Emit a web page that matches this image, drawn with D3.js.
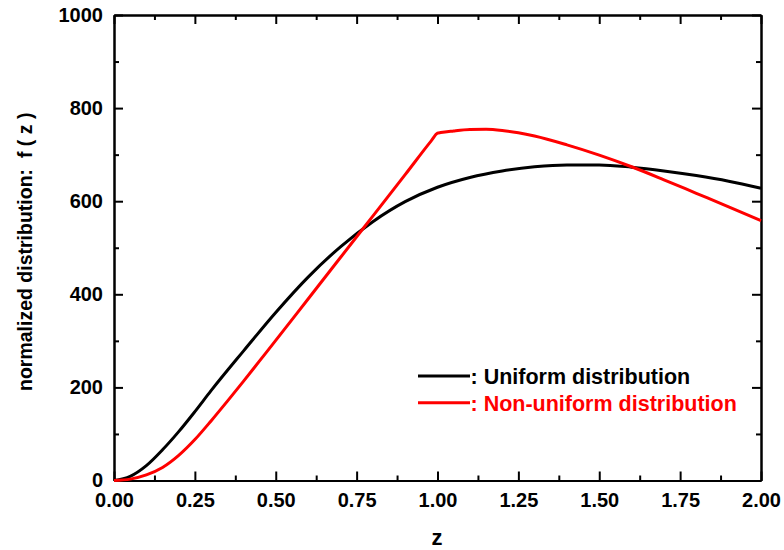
<!DOCTYPE html>
<html>
<head>
<meta charset="utf-8">
<script src="https://cdn.jsdelivr.net/npm/d3@7"></script>
<style>
  body { margin: 0; background: #fff; }
  svg { display: block; font-family: "Liberation Sans", Arial, sans-serif; }
</style>
</head>
<body>
<svg id="chart" width="784" height="550"></svg>
<script>
// ---- data ----
const zUniform = [0, 0.05, 0.1, 0.15, 0.2, 0.25, 0.3, 0.4, 0.5, 0.6, 0.7, 0.8, 0.9, 1.0, 1.1, 1.2, 1.3, 1.4, 1.5, 1.6, 1.7, 1.8, 1.9, 2.0];
const fUniform = [0, 9, 32, 66, 105, 148, 193, 278, 361, 437, 502, 556, 599, 630, 651, 665, 674, 678, 678, 673, 665, 655, 643, 628];

const zNonUniform = [0, 0.05, 0.1, 0.15, 0.2, 0.25, 0.3, 0.35, 0.4, 0.45, 0.5, 0.6, 0.7, 0.8, 0.9, 0.98, 1.0, 1.01, 1.05, 1.1, 1.15, 1.2, 1.25, 1.3, 1.4, 1.5, 1.6, 1.7, 1.8, 1.9, 2.0];
const fNonUniform = [0, 3, 12, 28, 54, 88, 128, 170, 213, 257, 301, 390, 479, 568, 657, 729, 746, 747.5, 751, 754, 754.5, 752, 747, 740, 721, 699, 674, 646, 617, 588, 558];

const xMajorTicks = [0, 0.25, 0.5, 0.75, 1.0, 1.25, 1.5, 1.75, 2.0];
const xMinorTicks = [0.125, 0.375, 0.625, 0.875, 1.125, 1.375, 1.625, 1.875];
const yMajorTicks = [0, 200, 400, 600, 800, 1000];
const yMinorTicks = [100, 300, 500, 700, 900];

const legendLabels = [": Uniform distribution", ": Non-uniform distribution"];
const seriesColors = ["#000000", "#ff0000"];

// ---- layout ----
const W = 784, H = 550;
const margin = { left: 114, top: 15, right: 23, bottom: 69.5 };
const iw = W - margin.left - margin.right;
const ih = H - margin.top - margin.bottom;

const svg = d3.select("#chart");
const g = svg.append("g").attr("transform", `translate(${margin.left},${margin.top})`);

const x = d3.scaleLinear().domain([0, 2]).range([0, iw]);
const y = d3.scaleLinear().domain([0, 1000]).range([ih, 0]);

const fmtX = d3.format(".2f");

function styleAxis(sel, fontSize) {
  sel.select(".domain").attr("stroke", "#000").attr("stroke-width", 2);
  sel.selectAll(".tick line").attr("stroke", "#000").attr("stroke-width", 2);
  sel.selectAll(".tick text")
    .attr("fill", "#000")
    .style("font-size", fontSize + "px")
    .style("font-weight", "bold");
}

// bottom axis
const gxb = g.append("g").attr("transform", `translate(0,${ih})`)
  .call(d3.axisBottom(x).tickValues(xMajorTicks).tickFormat(fmtX).tickSize(-9).tickSizeOuter(0).tickPadding(12));
styleAxis(gxb, 20);
const gxbm = g.append("g").attr("transform", `translate(0,${ih})`)
  .call(d3.axisBottom(x).tickValues(xMinorTicks).tickFormat("").tickSize(-5).tickSizeOuter(0));
styleAxis(gxbm, 20);

// top axis
const gxt = g.append("g")
  .call(d3.axisTop(x).tickValues(xMajorTicks).tickFormat("").tickSize(-9).tickSizeOuter(0));
styleAxis(gxt, 20);
const gxtm = g.append("g")
  .call(d3.axisTop(x).tickValues(xMinorTicks).tickFormat("").tickSize(-5).tickSizeOuter(0));
styleAxis(gxtm, 20);

// left axis
const gyl = g.append("g")
  .call(d3.axisLeft(y).tickValues(yMajorTicks).tickFormat(d3.format("d")).tickSize(-9).tickSizeOuter(0).tickPadding(11));
styleAxis(gyl, 20);
const gylm = g.append("g")
  .call(d3.axisLeft(y).tickValues(yMinorTicks).tickFormat("").tickSize(-5).tickSizeOuter(0));
styleAxis(gylm, 20);

// right axis
const gyr = g.append("g").attr("transform", `translate(${iw},0)`)
  .call(d3.axisRight(y).tickValues(yMajorTicks).tickFormat("").tickSize(-9).tickSizeOuter(0));
styleAxis(gyr, 20);
const gyrm = g.append("g").attr("transform", `translate(${iw},0)`)
  .call(d3.axisRight(y).tickValues(yMinorTicks).tickFormat("").tickSize(-5).tickSizeOuter(0));
styleAxis(gyrm, 20);

// curves
const line = d3.line()
  .x(d => x(d[0]))
  .y(d => y(d[1]))
  .curve(d3.curveMonotoneX);

const series = [
  d3.zip(zUniform, fUniform),
  d3.zip(zNonUniform, fNonUniform)
];

g.append("g")
  .selectAll("path.series")
  .data(series)
  .join("path")
  .attr("class", "series")
  .attr("fill", "none")
  .attr("stroke", (d, i) => seriesColors[i])
  .attr("stroke-width", 3)
  .attr("stroke-linejoin", "round")
  .attr("d", line);

// axis titles
svg.append("text")
  .attr("x", 437)
  .attr("y", 545)
  .attr("text-anchor", "middle")
  .style("font-size", "22px")
  .style("font-weight", "bold")
  .text("z");

svg.append("text")
  .attr("transform", "translate(32,391) rotate(-90)")
  .attr("text-anchor", "start")
  .style("font-size", "19.5px")
  .style("font-weight", "bold")
  .style("white-space", "pre")
  .attr("xml:space", "preserve")
  .text("normalized distribution:  f ( z )");

// legend
const legend = svg.append("g");
const legendRows = [
  { lineY: 376, textY: 383.5 },
  { lineY: 402.7, textY: 410.5 }
];
legendLabels.forEach((lab, i) => {
  legend.append("line")
    .attr("x1", 418).attr("x2", 470)
    .attr("y1", legendRows[i].lineY).attr("y2", legendRows[i].lineY)
    .attr("stroke", seriesColors[i]).attr("stroke-width", 3);
  legend.append("text")
    .attr("x", 470.5).attr("y", legendRows[i].textY)
    .attr("fill", seriesColors[i])
    .style("font-size", "21.5px")
    .style("font-weight", "bold")
    .style("white-space", "pre")
    .text(lab);
});
</script>
</body>
</html>
